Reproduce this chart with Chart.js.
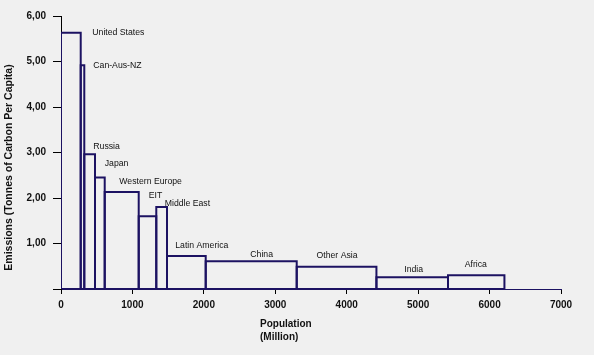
<!DOCTYPE html>
<html>
<head>
<meta charset="utf-8">
<script src="https://cdn.jsdelivr.net/npm/chart.js@4/dist/chart.umd.min.js"></script>
<style>
html,body{margin:0;padding:0;background:#f0f0f0;}
#wrap{width:594px;height:355px;position:relative;}
</style>
</head>
<body>
<div id="wrap"><canvas id="c" width="594" height="355"></canvas></div>
<script>
// ---- data ----
const regions = ["United States","Can-Aus-NZ","Russia","Japan","Western Europe","EIT","Middle East","Latin America","China","Other Asia","India","Africa"];
const population = [276, 50, 150, 136, 476, 246, 150, 542, 1274, 1116, 1002, 790]; // million
const emissionsPerCapita = [5.63, 4.92, 2.96, 2.45, 2.13, 1.60, 1.80, 0.725, 0.61, 0.49, 0.26, 0.30];
const xTicks = [0,1000,2000,3000,4000,5000,6000,7000];
const yTicks = [0,1,2,3,4,5,6];

// label anchors (data units) - layout only
const labelAnchorX = [438, 452, 452, 612, 816, 1228, 1452, 1600, 2650, 3577, 4806, 5652];
const labelAnchorY = [5.63, 4.92, 3.14, 2.76, 2.37, 2.05, 1.875, 0.945, 0.763, 0.725, 0.418, 0.527];

const navy = '#1c1262';
let cum = 0;
const datasets = regions.map((r,i)=>{
  const x0 = cum, x1 = cum + population[i]; cum = x1;
  const h = emissionsPerCapita[i];
  return {
    label: r,
    data: [{x:x0,y:0},{x:x0,y:h},{x:x1,y:h},{x:x1,y:0},{x:x0,y:0}],
    showLine: true,
    borderColor: navy,
    borderWidth: 2,
    pointRadius: 0,
    fill: false,
    tension: 0,
    borderJoinStyle: 'miter'
  };
});

const labelPlugin = {
  id: 'labels',
  afterDatasetsDraw(chart){
    const ctx = chart.ctx, xs = chart.scales.x, ys = chart.scales.y;
    ctx.save();
    ctx.fillStyle = '#111';
    ctx.font = '8.7px "Liberation Sans", Arial, sans-serif';
    ctx.textBaseline = 'middle';
    ctx.textAlign = 'left';
    regions.forEach((r,i)=>{
      ctx.fillText(r, xs.getPixelForValue(labelAnchorX[i]), ys.getPixelForValue(labelAnchorY[i]));
    });
    // axis titles
    ctx.font = 'bold 10px "Liberation Sans", Arial, sans-serif';
    ctx.fillText('Population', 260, 324);
    ctx.fillText('(Million)', 260, 337);
    ctx.translate(9, 167.5);
    ctx.rotate(-Math.PI/2);
    ctx.textAlign = 'center';
    ctx.font = 'bold 10.5px "Liberation Sans", Arial, sans-serif';
    ctx.fillText('Emissions (Tonnes of Carbon Per Capita)', 0, 0);
    ctx.restore();
  }
};

new Chart(document.getElementById('c'), {
  type: 'scatter',
  data: { datasets },
  options: {
    responsive: false,
    animation: false,
    events: [],
    layout: { padding: { top: 16, right: 33, left: 0, bottom: 0 } },
    plugins: { legend: {display:false}, tooltip: {enabled:false} },
    scales: {
      x: {
        type: 'linear', min: 0, max: 7000,
        afterBuildTicks(s){ s.ticks = xTicks.map(v=>({value:v})); },
        afterFit(s){ s.height = 355 - 289; },
        grid: { drawOnChartArea: false, drawTicks: true, tickLength: 5, color: '#000' },
        border: { color: '#1c1262', width: 1 },
        ticks: { color: '#111', font: { family: '"Liberation Sans", Arial, sans-serif', size: 10, weight: 'bold' }, padding: 5, maxRotation: 0, autoSkip: false,
          callback: v => String(v) }
      },
      y: {
        type: 'linear', min: 0, max: 6,
        afterBuildTicks(s){ s.ticks = yTicks.map(v=>({value:v})); },
        afterFit(s){ s.width = 61; },
        grid: { drawOnChartArea: false, drawTicks: true, tickLength: 8, color: '#000' },
        border: { color: '#000', width: 1 },
        ticks: { color: '#111', font: { family: '"Liberation Sans", Arial, sans-serif', size: 10, weight: 'bold' }, padding: 7,
          callback: v => v === 0 ? '' : v.toFixed(2).replace('.', ',') }
      }
    }
  },
  plugins: [labelPlugin]
});
</script>
</body>
</html>
